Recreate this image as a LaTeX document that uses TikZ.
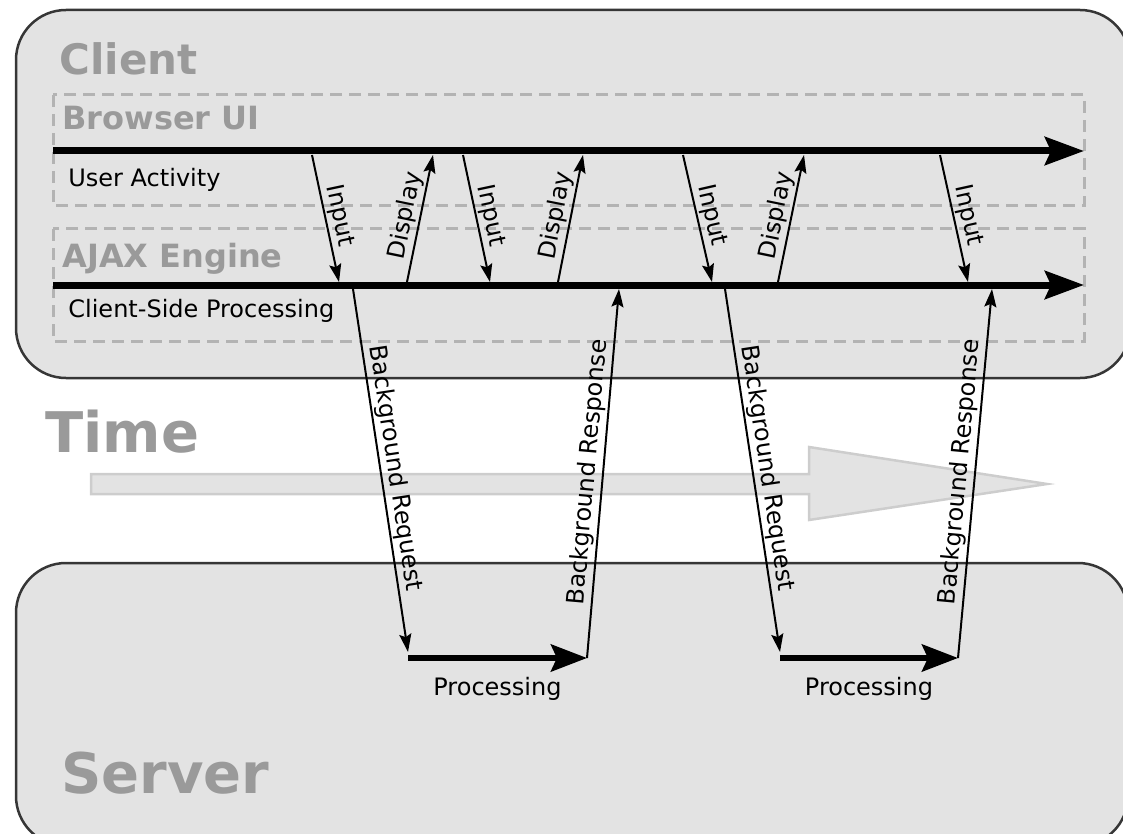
\documentclass[tikz,border=0pt]{standalone}
\usepackage{fontspec}
\setmainfont{DejaVu Sans}
\usetikzlibrary{arrows.meta}
\definecolor{boxgray}{HTML}{E3E3E3}
\definecolor{edgegray}{HTML}{363636}
\definecolor{dashgray}{HTML}{B3B3B3}
\definecolor{headgray}{HTML}{9A9A9A}
\definecolor{timegray}{HTML}{CDCDCD}
\newcommand{\fsz}[1]{\fontsize{#1}{#1}\selectfont}

\begin{document}
\begin{tikzpicture}[x=0.5pt,y=-0.5pt,
  lane/.style={draw=dashgray,line width=1.5pt,dash pattern=on 6pt off 3.5pt},
  flow/.style={line width=3.5pt,-{Stealth[length=19.5pt,width=14pt,inset=3pt]}},
  work/.style={line width=3pt,-{Stealth[length=18pt,width=13.5pt,inset=3pt]}},
  msg/.style={line width=1pt,-{Stealth[length=9pt,width=6pt,inset=1.5pt]}},
  head/.style={anchor=base west,inner sep=0pt,text=headgray,font=\bfseries\fsz{#1}},
  txt/.style={anchor=base west,inner sep=0pt,font=\fsz{12}},
  tag/.style={font=\fsz{12},inner sep=1pt,sloped,above}]
\clip (0,0) rectangle (1123,834);
% client and server boxes
\draw[edgegray,fill=boxgray,line width=1.25pt,rounded corners=25pt] (16,10) rectangle (1130,378);
\draw[edgegray,fill=boxgray,line width=1.25pt,rounded corners=25pt] (16,563) rectangle (1128,846);
\draw[lane] (53,95) rectangle (1084,206);
\draw[lane] (53,229) rectangle (1084,341);
\node[head=21] (client) at (59,75) {Client};
\node[head=16] (browser) at (62,130) {Browser UI};
\node[txt] (useract) at (68,187) {User Activity};
\node[head=16] (ajax) at (62,267) {AJAX Engine};
\node[txt] (csproc) at (68,317) {Client-Side Processing};
\node[head=28] (server) at (61,793) {Server};
% time arrow
\node[head=28] (time) at (45,452) {Time};
\draw[timegray,fill=boxgray,line width=1.25pt] (91,474) -- (809,474) -- (809,447) -- (1047,484)
  -- (809,520) -- (809,494) -- (91,494) -- cycle;
% the two time lines
\coordinate (ui-s) at (53,151);
\coordinate (ui-e) at (1084,151);
\coordinate (aj-s) at (53,285);
\coordinate (aj-e) at (1084,285);
\draw[flow] (ui-s) -- (ui-e);
\draw[flow] (aj-s) -- (aj-e);
% input and display
\foreach \n/\xa/\xb in {1/312/339,2/463/490,3/683/712,4/940/968}{
  \coordinate (in\n-s) at (\xa,155);
  \coordinate (in\n-e) at (\xb,282);
  \draw[msg] (in\n-s) -- node[tag] (in\n-l) {Input} (in\n-e);
}
\foreach \n/\xa/\xb in {1/407/433,2/558/583,3/778/804}{
  \coordinate (dp\n-s) at (\xa,282);
  \coordinate (dp\n-e) at (\xb,155);
  \draw[msg] (dp\n-s) -- node[tag] (dp\n-l) {Display} (dp\n-e);
}
% round trips to the server
\foreach \n/\xa/\xb/\xc/\xd in {1/353/408/587/619,2/725/780/958/992}{
  \coordinate (rq\n-s) at (\xa,289);
  \coordinate (rq\n-e) at (\xb,652);
  \coordinate (pr\n-s) at (\xb,658);
  \coordinate (pr\n-e) at (\xc,658);
  \coordinate (rs\n-e) at (\xd,289);
  \draw[msg] (rq\n-s) -- node[tag] (rq\n-l) {Background Request} (rq\n-e);
  \draw[work] (pr\n-s) -- node[font=\fsz{12},anchor=base,yshift=-18.5pt] (pr\n-l) {Processing} (pr\n-e);
  \draw[msg] (pr\n-e) -- node[tag] (rs\n-l) {Background Response} (rs\n-e);
}
\end{tikzpicture}
\end{document}
